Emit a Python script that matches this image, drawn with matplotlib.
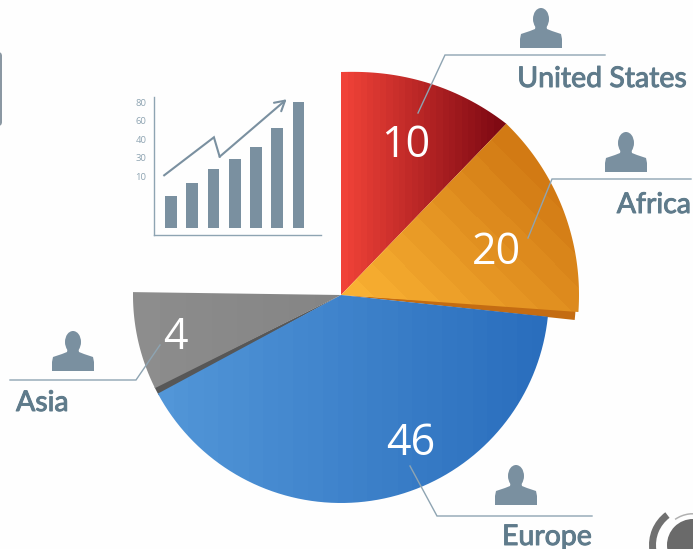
import numpy as np
import matplotlib
matplotlib.use("Agg")
import matplotlib.pyplot as plt
import matplotlib.patheffects as pe
from matplotlib.path import Path
from matplotlib.patches import PathPatch, Wedge, Ellipse, FancyBboxPatch

W, H = 693, 549
regions = ["United States", "Africa", "Europe", "Asia"]
values = [10, 20, 46, 4]
# sweep of each slice as drawn, degrees clockwise from 12 o'clock
slice_start = [0, 44, 96, 243.4]
slice_end = [44, 94.1, 241.7, 270.8]
slice_radius = [231, 238, 208, 208]
slice_left = ["#f04238", "#f9b133", "#5296d8", "#8d8d8d"]
slice_right = ["#7c0812", "#d27a14", "#2a6ebd", "#858585"]
slice_dir = [(1, 0), (1, -1), (1, 0), (1, 0)]
slice_steps = [26, 11, 26, 8]
value_xy = [(406, 146), (496, 253), (411, 444), (175, 338)]

bar_heights = [32, 45, 59, 69, 81, 100, 126]
tick_pos = [51, 70, 88, 107, 125]
tick_labels = ["10", "30", "40", "60", "80"]
trend_x = [-0.32, 2.02, 2.29, 5.44]
trend_y = [52.4, 90.4, 71, 128.4]

SLATE = "#7a90a0"
TEXT = "#5f7b8b"
LEAD = "#8ea4b2"
CX, CY = 341, 295

plt.rcParams["font.family"] = ["Open Sans", "DejaVu Sans"]
fig = plt.figure(figsize=(W / 100, H / 100), dpi=100, facecolor="#fefefe")
ax = fig.add_axes([0, 0, 1, 1])
ax.set_xlim(0, W)
ax.set_ylim(H, 0)
ax.axis("off")


def pol(deg, r):
    a = np.radians(deg)
    return CX + r * np.sin(a), CY - r * np.cos(a)


def wedge_path(a0, a1, r0, r1=None):
    r1 = r0 if r1 is None else r1
    t = np.linspace(a0, a1, 80)
    r = r0 + (r1 - r0) * np.linspace(0, 1, 80) ** 1.3
    xs, ys = pol(t, r)
    v = np.column_stack([np.r_[CX, xs, CX], np.r_[CY, ys, CY]])
    return Path(v, closed=False)


def gradient(path, c0, c1, direction, steps, z):
    xs = path.vertices[:, 0]
    ys = path.vertices[:, 1]
    x0, x1, y0, y1 = xs.min(), xs.max(), ys.min(), ys.max()
    gx, gy = np.meshgrid(np.linspace(x0, x1, int(x1 - x0) + 2),
                         np.linspace(y0, y1, int(y1 - y0) + 2))
    u = gx * direction[0] + gy * direction[1]
    pts = xs * direction[0] + ys * direction[1]
    u = (u - pts.min()) / (pts.max() - pts.min())
    u = np.clip(np.floor(u * steps) / max(steps - 1, 1), 0, 1)[..., None]
    a = np.array(matplotlib.colors.to_rgb(c0))[None, None, :]
    b = np.array(matplotlib.colors.to_rgb(c1))[None, None, :]
    im = ax.imshow(a + (b - a) * u, extent=(x0, x1, y1, y0), zorder=z,
                   aspect="auto", interpolation="nearest")
    p = PathPatch(path, transform=ax.transData, fc="none", ec="none")
    ax.add_patch(p)
    im.set_clip_path(p)


# depth bands
ax.add_patch(PathPatch(wedge_path(slice_end[1] - 0.5, 96.1, 235), fc="#c46c12", ec="none", zorder=1))
ax.add_patch(PathPatch(wedge_path(slice_end[2] - 0.5, slice_start[3] + 0.3, 208), fc="#575757", ec="none", zorder=1))

# slices
for i in range(4):
    if i == 0:
        pth = wedge_path(slice_start[i], slice_end[i], 223, 238)
    else:
        pth = wedge_path(slice_start[i], slice_end[i], slice_radius[i])
    gradient(pth, slice_left[i], slice_right[i], slice_dir[i], slice_steps[i], 2)

ax.set_xlim(0, W)
ax.set_ylim(H, 0)

# leader lines
leaders = [([418, 445, 605], [113, 55, 55]),
           ([528, 552, 691], [238, 179, 179]),
           ([410, 437, 592], [466, 516, 516]),
           ([10, 136, 160], [380, 380, 345])]
for lx, ly in leaders:
    ax.plot(lx, ly, color=LEAD, lw=1.0, zorder=4, solid_joinstyle="miter")

# value labels
for v, (x, y) in zip(values, value_xy):
    ax.text(x, y, str(v), color="white", fontsize=31, ha="center", va="center", zorder=6)

# region labels
name_xy = [(687, 79, "right"), (691, 205, "right"), (592, 537, "right"), (16, 403, "left")]
for n, (x, y, ha) in zip(regions, name_xy):
    ax.text(x, y, n, color=TEXT, fontsize=20.5, ha=ha, va="center", zorder=6,
            family=["Lato", "DejaVu Sans"],
            path_effects=[pe.withStroke(linewidth=0.7, foreground=TEXT)])


def person(x, y):
    # x, y : top-left of a 42x40 px glyph
    ax.add_patch(Ellipse((x + 21, y + 11), 16, 22, fc=SLATE, ec="none", zorder=5))
    vv = np.array([(0, 40), (0, 31), (1, 26), (10, 23), (15, 21), (16, 16), (26, 16), (27, 21),
                   (32, 23), (41, 26), (42, 31), (42, 40), (0, 40)], float)
    ax.fill(x + vv[:, 0], y + vv[:, 1], color=SLATE, lw=0, zorder=5)


for px, py in [(520, 8), (605, 132), (495, 465), (52, 331)]:
    person(px, py)

# left-edge smudge and corner logo
ax.add_patch(FancyBboxPatch((-8, 52), 10, 74, boxstyle="round,pad=0,rounding_size=4",
                            fc="#8b98a3", ec="none", zorder=1))
ax.add_patch(Wedge((690, 545), 41, 172, 233, width=7, fc="#707070", ec="none", zorder=1))
ax.add_patch(Ellipse((693, 545), 52, 52, fc="#6a6a6a", ec="none", zorder=1))
ax.add_patch(Wedge((693, 545), 32, 235, 290, width=1.5, fc="#b0b0b0", ec="none", zorder=1))
ax.set_xlim(0, W)
ax.set_ylim(H, 0)

# inset bar chart
ins = fig.add_axes([154 / W, 1 - 234.5 / H, 167 / W, 137.5 / H], facecolor="none")
ins.bar(range(len(bar_heights)), bar_heights, width=0.56, color=SLATE, zorder=2)
ins.set_xlim(-0.8, 7.06)
ins.set_ylim(-6.8, 130.7)
ins.set_xticks([])
ins.set_yticks(tick_pos)
ins.set_yticklabels(tick_labels)
ins.tick_params(axis="y", length=0, pad=5.5, labelsize=6.8, labelcolor="#8ea4b2")
for s in ("top", "right"):
    ins.spines[s].set_visible(False)
for s in ("left", "bottom"):
    ins.spines[s].set_color(LEAD)
    ins.spines[s].set_linewidth(1.0)
ins.plot(trend_x[:-1], trend_y[:-1], color=SLATE, lw=1.5, clip_on=False, zorder=3, solid_joinstyle="miter")
ins.annotate("", xy=(trend_x[-1], trend_y[-1]), xytext=(trend_x[-2], trend_y[-2]),
             annotation_clip=False,
             arrowprops=dict(arrowstyle="->,head_length=0.7,head_width=0.4", color=SLATE, lw=1.5,
                             shrinkA=0, shrinkB=0))

fig.savefig("out.png", dpi=100, facecolor=fig.get_facecolor())
